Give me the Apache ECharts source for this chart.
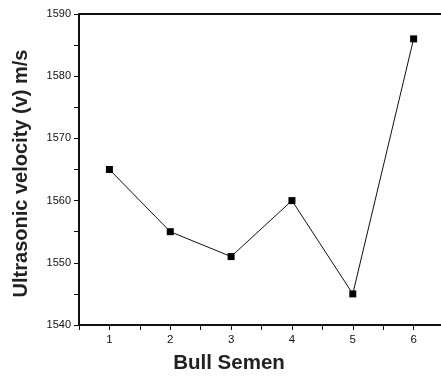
<!DOCTYPE html>
<html><head><meta charset="utf-8">
<script src="https://cdn.jsdelivr.net/npm/echarts@6/dist/echarts.min.js"></script>
<style>html,body{margin:0;padding:0;background:#fff}#c{width:441px;height:378px}</style>
</head><body><div id="c"></div>
<script>
const samples = [1, 2, 3, 4, 5, 6];
const velocity = [1565, 1555, 1551, 1560, 1545, 1586];
const xTicks = [1, 2, 3, 4, 5, 6];
const yTicks = [1540, 1550, 1560, 1570, 1580, 1590];

const chart = echarts.init(document.getElementById('c'));
const font = 'Liberation Sans, Arial, sans-serif';
chart.setOption({
  animation: false,
  backgroundColor: '#fff',
  grid: { left: 79, top: 14, width: 362, height: 311, containLabel: false, outerBoundsMode: 'none' },
  xAxis: {
    type: 'value', min: 0.5, max: 6.45, interval: 0.5,
    name: 'Bull Semen', nameLocation: 'middle', nameGap: 28,
    nameTextStyle: { fontFamily: font, fontWeight: 'bold', fontSize: 20.5, color: '#222', padding: [0, 62, 0, 0] },
    axisLine: { show: true, lineStyle: { color: '#111', width: 2 } },
    axisTick: { show: true, inside: false, length: 5, lineStyle: { color: '#111', width: 1 } },
    minorTick: { show: false },
    axisLabel: {
      fontFamily: font, fontSize: 11.5, color: '#111', margin: 9, showMaxLabel: false,
      formatter: v => xTicks.includes(v) ? String(v) : ''
    },
    splitLine: { show: false }
  },
  yAxis: {
    type: 'value', min: 1540, max: 1590, interval: 5,
    name: 'Ultrasonic velocity (v) m/s', nameLocation: 'middle', nameGap: 48,
    nameTextStyle: { fontFamily: font, fontWeight: 'bold', fontSize: 20, color: '#222', padding: [0, 8, 0, 0] },
    axisLine: { show: true, lineStyle: { color: '#111', width: 2 } },
    axisTick: { show: true, inside: false, length: 5, lineStyle: { color: '#111', width: 1 } },
    axisLabel: {
      fontFamily: font, fontSize: 11, color: '#111', margin: 8,
      formatter: v => yTicks.includes(v) ? String(v) : ''
    },
    splitLine: { show: false }
  },
  graphic: [{
    type: 'line', shape: { x1: 79, y1: 14, x2: 441, y2: 14 },
    style: { stroke: '#111', lineWidth: 2 }
  }],
  series: [{
    type: 'line',
    data: samples.map((s, i) => [s, velocity[i]]),
    symbol: 'rect', symbolSize: 7,
    itemStyle: { color: '#000' },
    lineStyle: { color: '#111', width: 1 }
  }]
});
</script></body></html>
